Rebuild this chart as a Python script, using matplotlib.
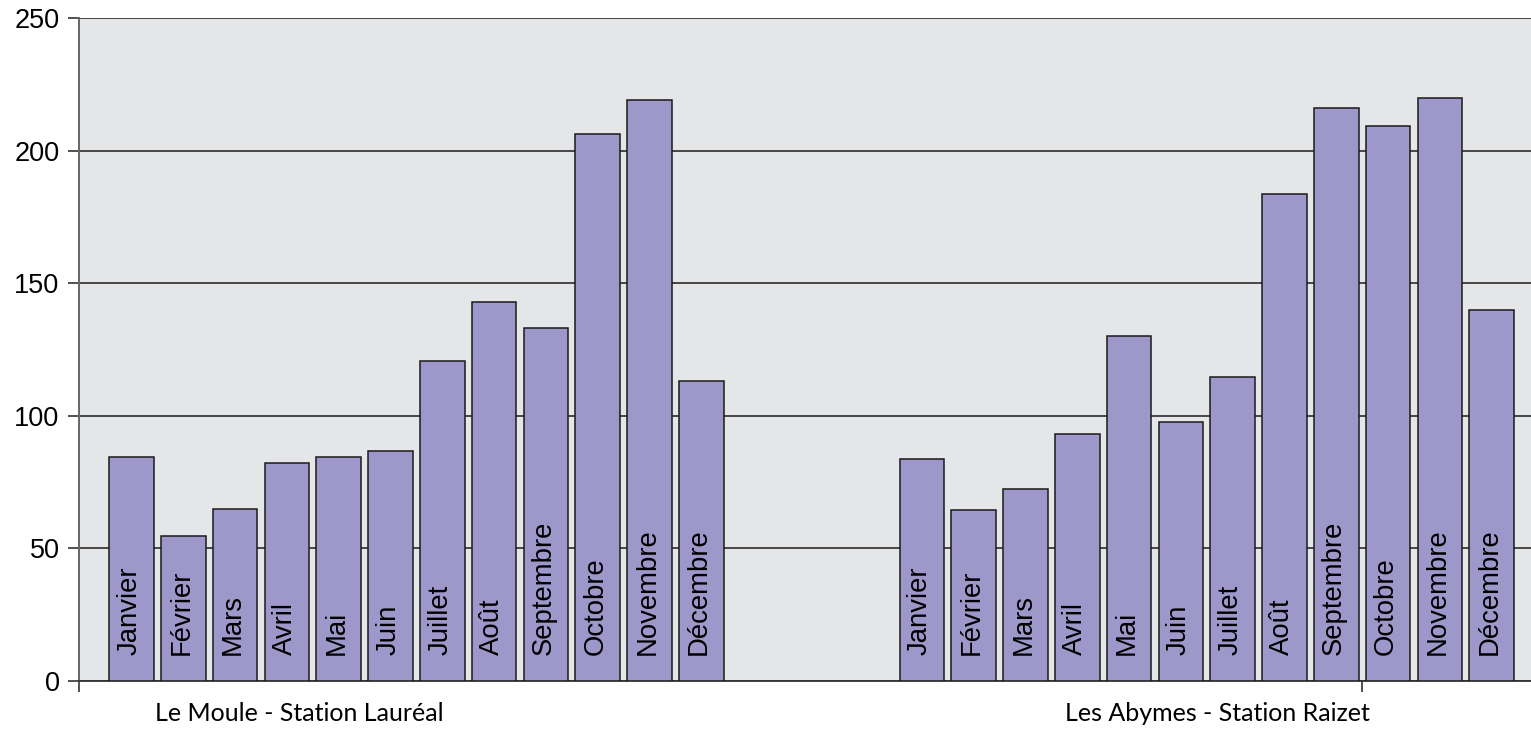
import matplotlib
matplotlib.use("Agg")
import matplotlib.pyplot as plt
from matplotlib.transforms import offset_copy, blended_transform_factory

months = ["Janvier", "Février", "Mars", "Avril", "Mai", "Juin", "Juillet",
          "Août", "Septembre", "Octobre", "Novembre", "Décembre"]
stations = ["Le Moule - Station Lauréal", "Les Abymes - Station Raizet"]
le_moule = [84.6, 54.7, 64.7, 82.3, 84.6, 86.8, 120.8, 143.0, 133.1, 206.3, 219.1, 113.0]
les_abymes = [83.8, 64.6, 72.4, 93.1, 130.1, 97.7, 114.6, 183.7, 216.1, 209.3, 219.8, 139.9]
y_ticks = [0, 50, 100, 150, 200, 250]

series = [le_moule, les_abymes]

W, H = 1531, 729
fig = plt.figure(figsize=(W / 100, H / 100), dpi=100)
fig.patch.set_facecolor("white")
ax = fig.add_axes([79 / W, 48 / H, (W - 79) / W, 663 / H])
ax.set_facecolor("#E5E6E8")

group_offset = 15.26
bar_width = 0.86
bar_color = "#9D97CA"

tr_label = offset_copy(ax.transData, fig=fig, x=0, y=26, units="dots")
for g, values in enumerate(series):
    xs = [g * group_offset + i for i in range(len(values))]
    ax.bar(xs, values, width=bar_width, color=bar_color, edgecolor="#1a1a1a",
           linewidth=1.1, zorder=3)
    for x, m in zip(xs, months):
        ax.text(x - 0.04, 0, m, rotation=90, ha="center", va="bottom",
                fontsize=19.8, family="Liberation Sans", color="black",
                transform=tr_label, zorder=4)

ax.set_xlim(-1.0145, 27.02)
ax.set_ylim(0, 250)
ax.set_yticks(y_ticks)
ax.set_yticklabels([str(v) for v in y_ticks], fontsize=19.5, family="Liberation Sans")
ax.yaxis.grid(True, color="#3a3a3a", linewidth=1.3, zorder=1)
ax.set_axisbelow(True)

ax.set_xticks([-1.0145, 23.75])
ax.set_xticklabels([])
ax.tick_params(axis="x", length=8, width=1.2, color="#333333", direction="out")
ax.tick_params(axis="y", length=8, width=1.2, color="#333333", direction="out", pad=6)

for side in ["top", "right"]:
    ax.spines[side].set_visible(False)
ax.spines["left"].set_color("#666666")
ax.spines["left"].set_linewidth(1.4)
ax.spines["bottom"].set_color("#333333")
ax.spines["bottom"].set_linewidth(1.3)

# Station names under the category axis
label_x = [3.23, 20.96]
blend = blended_transform_factory(ax.transData, fig.transFigure)
for x, name in zip(label_x, stations):
    ax.text(x, 8 / H, name, ha="center", va="baseline", fontsize=18,
            family="Lato", color="black", transform=blend)

fig.savefig("out.png", dpi=100)
